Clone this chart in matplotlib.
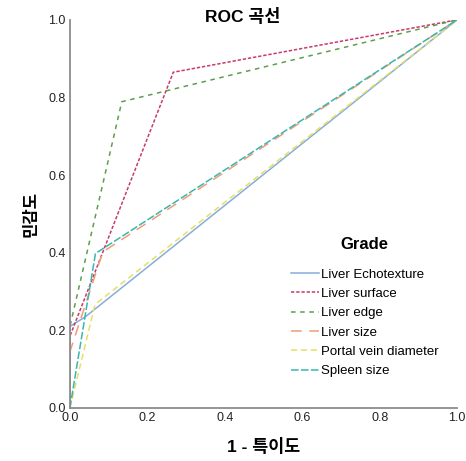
import matplotlib.pyplot as plt

plt.rcParams['font.family'] = ['Liberation Sans', 'Noto Sans CJK KR', 'DejaVu Sans']

# ROC curve points (1 - specificity, sensitivity)
names = ['Liver Echotexture', 'Liver surface', 'Liver edge', 'Liver size',
         'Portal vein diameter', 'Spleen size']
fpr_echo = [0.0, 0.0, 0.04, 1.0]
tpr_echo = [0.0, 0.21, 0.235, 1.0]
fpr_surface = [0.0, 0.0, 0.267, 1.0]
tpr_surface = [0.0, 0.185, 0.865, 1.0]
fpr_edge = [0.0, 0.0, 0.134, 1.0]
tpr_edge = [0.0, 0.21, 0.789, 1.0]
fpr_size = [0.0, 0.0, 0.085, 1.0]
tpr_size = [0.0, 0.145, 0.402, 1.0]
fpr_portal = [0.0, 0.065, 1.0]
tpr_portal = [0.0, 0.267, 1.0]
fpr_spleen = [0.0, 0.066, 1.0]
tpr_spleen = [0.0, 0.398, 1.0]

curves = [(fpr_echo, tpr_echo), (fpr_surface, tpr_surface), (fpr_edge, tpr_edge),
          (fpr_size, tpr_size), (fpr_portal, tpr_portal), (fpr_spleen, tpr_spleen)]
colors = ['#86aedb', '#c83a6c', '#5e9e4e', '#ee9e78', '#e6df64', '#3bb6ad']
dashes = [None, (2.2, 1.2), (3, 3), (7, 5), (4, 2.5), (5, 1.5)]

fig = plt.figure(figsize=(4.66, 4.61), dpi=100)
ax = fig.add_axes([0.150, 0.115, 0.831, 0.842])

for (x, y), name, c, d in zip(curves, names, colors, dashes):
    line, = ax.plot(x, y, color=c, lw=1.1, label=name)
    if d is not None:
        line.set_dashes(d)

ax.set_xlim(0, 1)
ax.set_ylim(0, 1)
ax.set_xticks([0, 0.2, 0.4, 0.6, 0.8, 1.0])
ax.set_yticks([0, 0.2, 0.4, 0.6, 0.8, 1.0])
ax.xaxis.set_major_formatter(plt.FormatStrFormatter('%.1f'))
ax.yaxis.set_major_formatter(plt.FormatStrFormatter('%.1f'))
ax.tick_params(length=0, labelsize=9, colors='#222222', pad=3)
ax.spines['top'].set_visible(False)
ax.spines['right'].set_visible(False)
for s in ['left', 'bottom']:
    ax.spines[s].set_color('#8c8c8c')
    ax.spines[s].set_linewidth(1.3)

fig.text(0.52, 0.965, 'ROC 곡선', ha='center', va='center', fontsize=12.5, fontweight='bold')
ax.set_xlabel('1 - 특이도', fontsize=12.5, fontweight='bold', labelpad=10)
ax.set_ylabel('민감도', fontsize=12, fontweight='bold', labelpad=7)

leg = ax.legend(loc='center left', bbox_to_anchor=(0.54, 0.26), frameon=False,
                title='Grade', fontsize=9.5, handlelength=2.1, handletextpad=0.15,
                labelspacing=0.54)
leg.get_title().set_fontweight('bold')
leg.get_title().set_fontsize(12)
leg._legend_box.sep = 12  # more room under the title

fig.savefig('out.png', dpi=100)
